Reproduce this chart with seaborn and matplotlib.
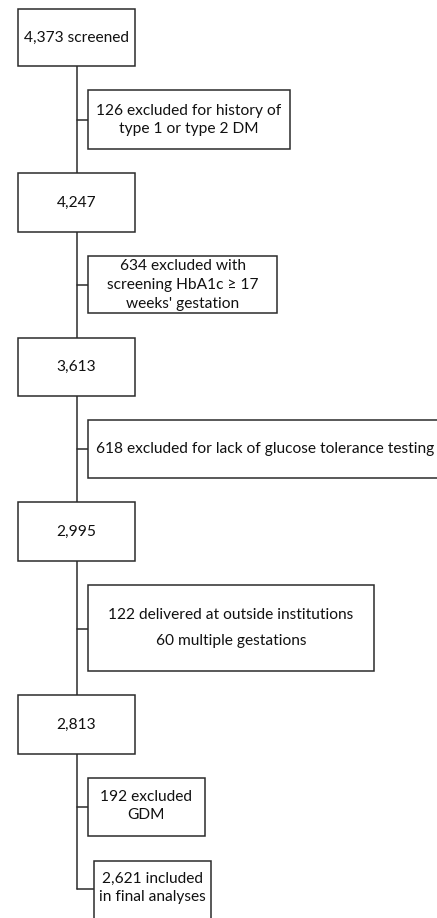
import matplotlib
matplotlib.use('Agg')
import matplotlib.pyplot as plt
from matplotlib.patches import Rectangle
import seaborn as sns

# flow counts and labels
main_labels = ['4,373 screened', '4,247', '3,613', '2,995', '2,813']
side_labels = [
    '126 excluded for history of\ntype 1 or type 2 DM',
    "634 excluded with\nscreening HbA1c \u2265 17\nweeks' gestation",
    '618 excluded for lack of glucose tolerance testing',
    '122 delivered at outside institutions\n60 multiple gestations',
    '192 excluded\nGDM',
    '2,621 included\nin final analyses',
]

# layout in pixels (x0, y0, x1, y1)
main_boxes = [(18, 9, 135, 66), (18, 173, 135, 232), (18, 338, 135, 396),
              (18, 502, 135, 561), (18, 695, 135, 754)]
side_boxes = [(88, 90, 290, 149), (88, 256, 277, 313), (88, 420, 445, 478),
              (88, 585, 374, 671), (88, 778, 205, 836), (94, 861, 211, 925)]
side_text_x = [189, 183, 265, 231, 146, 152]
side_text_y = [120, 285, 449, 628, 806, 888]
side_spacing = [1.42, 1.42, 1.0, 2.1, 1.42, 1.42]
connector_y = [120, 285, 449, 629, 807, 889]
trunk_x = 77

sns.set_theme(style='white')
plt.rcParams['font.family'] = ['Lato', 'DejaVu Sans']

fig = plt.figure(figsize=(4.37, 9.18), dpi=100)
ax = fig.add_axes([0, 0, 1, 1])
ax.set_xlim(0, 437)
ax.set_ylim(918, 0)
ax.axis('off')

ec = '#2b2b2b'
tc = '#111111'
lw = 1.1
fs = 11.2

# trunk line
ax.plot([trunk_x, trunk_x], [main_boxes[0][3], connector_y[-1]], color=ec, lw=lw, zorder=1)

for (x0, y0, x1, y1), lab in zip(main_boxes, main_labels):
    ax.add_patch(Rectangle((x0, y0), x1 - x0, y1 - y0, facecolor='white',
                           edgecolor=ec, lw=lw, zorder=2))
    ax.text((x0 + x1) / 2, (y0 + y1) / 2, lab, ha='center', va='center',
            fontsize=fs, color=tc, zorder=3)

for (x0, y0, x1, y1), lab, tx, ty, sp, cy in zip(side_boxes, side_labels, side_text_x,
                                                   side_text_y, side_spacing, connector_y):
    ax.add_patch(Rectangle((x0, y0), x1 - x0, y1 - y0, facecolor='white',
                           edgecolor=ec, lw=lw, zorder=2))
    ax.plot([trunk_x, x0], [cy, cy], color=ec, lw=lw, zorder=1)
    ax.text(tx, ty, lab, ha='center', va='center', fontsize=fs,
            color=tc, linespacing=sp, zorder=3)

fig.savefig('out.png', dpi=100, facecolor='white')
